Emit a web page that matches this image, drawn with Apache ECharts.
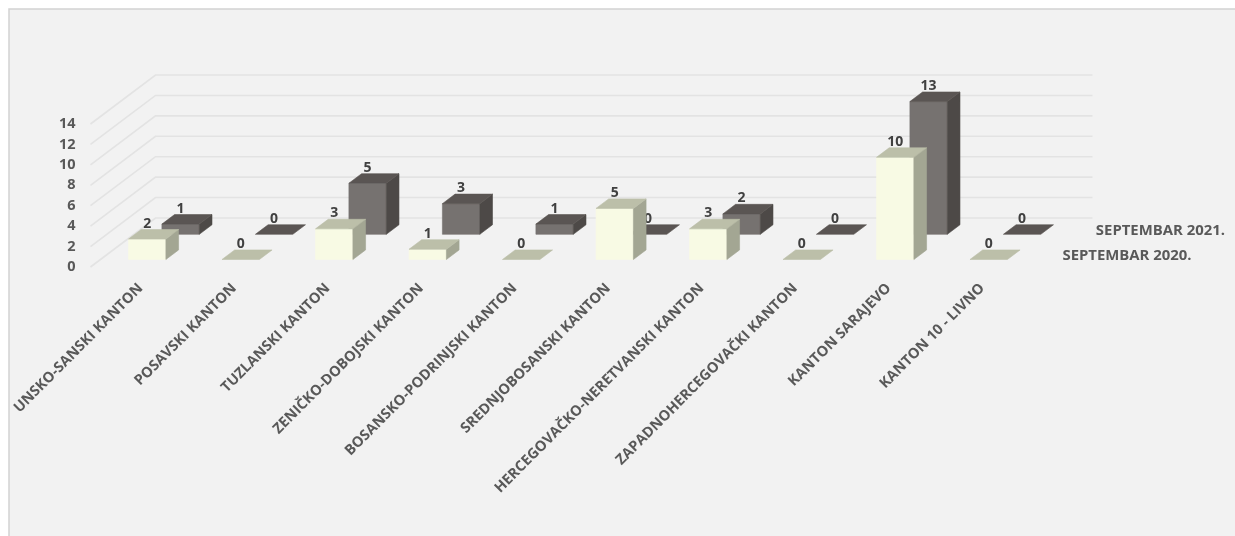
<!DOCTYPE html>
<html>
<head>
<meta charset="utf-8">
<style>html,body{margin:0;padding:0;background:#fff}#c{width:1235px;height:536px}</style>
<script src="https://cdn.jsdelivr.net/npm/echarts@6/dist/echarts.min.js"></script>
</head>
<body>
<div id="c"></div>
<script>
const categories = ['UNSKO-SANSKI KANTON','POSAVSKI KANTON','TUZLANSKI KANTON','ZENIČKO-DOBOJSKI KANTON','BOSANSKO-PODRINJSKI KANTON','SREDNJOBOSANSKI KANTON','HERCEGOVAČKO-NERETVANSKI KANTON','ZAPADNOHERCEGOVAČKI KANTON','KANTON SARAJEVO','KANTON 10 - LIVNO'];
const seriesNames = ['SEPTEMBAR 2020.','SEPTEMBAR 2021.'];
const sept2020 = [2,0,3,1,0,5,3,0,10,0];
const sept2021 = [1,0,5,3,1,0,2,0,13,0];
const yTicks = [0,2,4,6,8,10,12,14];

const FONT = '"Open Sans", sans-serif';
const WALL_DX = 65, WALL_DY = 49, BAR_DEPTH = 0.195;
const DEPTH = [0.153, 0.667];
const PAL = [
  {front:'#f8fae4', top:'#bcbfa9', side:'#a3a693'},
  {front:'#767270', top:'#5a5553', side:'#4d4947'}
];

function poly(points, fill){
  return {type:'polygon', shape:{points}, style:{fill, stroke:fill, lineWidth:0.6}};
}
function barRenderer(k){
  return function(params, api){
    const i = api.value(0), v = api.value(1);
    const band = api.size([1,0])[0];
    const w = band * 0.4;
    const base = api.coord([i,0]), top = api.coord([i,v]);
    const ox = WALL_DX*DEPTH[k], oy = -WALL_DY*DEPTH[k];
    const dx = WALL_DX*BAR_DEPTH, dy = -WALL_DY*BAR_DEPTH;
    const L = base[0]+ox-w/2, R = base[0]+ox+w/2, B = base[1]+oy, T = top[1]+oy;
    const c = PAL[k], children = [];
    if (v > 0) {
      children.push(poly([[L,T],[R,T],[R,B],[L,B]], c.front));
      children.push(poly([[R,T],[R+dx,T+dy],[R+dx,B+dy],[R,B]], c.side));
    }
    children.push(poly([[L,T],[R,T],[R+dx,T+dy],[L+dx,T+dy]], c.top));
    children.push({type:'text', style:{text:String(v), x:base[0]+ox, y:T+dy+1, align:'center', verticalAlign:'bottom',
      font:'bold 14px '+FONT, fill:'#404040'}});
    return {type:'group', children};
  };
}
function barData(vals){ return vals.map((v,i)=>[i,v]); }

const option = {
  animation:false,
  backgroundColor:'#ffffff',
  graphic:[{type:'rect', z:-10, shape:{x:9,y:9,width:1240,height:540}, style:{fill:'#f2f2f2', stroke:'#d2d2d2', lineWidth:1.5}}],
  grid:{left:90.5, top:124, width:935, height:143, containLabel:false},
  xAxis:{type:'category', data:categories, axisLine:{show:false}, axisTick:{show:false}, splitLine:{show:false},
    axisLabel:{interval:0, rotate:45, margin:15.5, verticalAlign:'top', lineHeight:10, color:'#595959', fontFamily:FONT, fontWeight:'bold', fontSize:14.5}},
  yAxis:{type:'value', min:0, max:14, interval:2, axisLine:{show:false}, axisTick:{show:false}, splitLine:{show:false},
    axisLabel:{margin:15, color:'#595959', fontFamily:FONT, fontWeight:'bold', fontSize:14.5}},
  series:[
    {type:'custom', name:'walls', coordinateSystem:'cartesian2d', silent:true, clip:false, z:1,
      data:yTicks.map(t=>[0,t]), encode:{x:0,y:1},
      renderItem(params, api){
        const band = api.size([1,0])[0];
        const p = api.coord([0, api.value(1)]);
        const x0 = p[0]-band/2, y0 = p[1];
        const xr = api.coord([categories.length-1,0])[0]+band/2+WALL_DX+2;
        return {type:'polyline', shape:{points:[[x0,y0],[x0+WALL_DX,y0-WALL_DY],[xr,y0-WALL_DY]]},
          style:{fill:null, stroke:'#e3e3e3', lineWidth:1.6}};
      }},
    {type:'custom', name:seriesNames[1], coordinateSystem:'cartesian2d', clip:false, z:2,
      data:barData(sept2021), encode:{x:0,y:1}, renderItem:barRenderer(1)},
    {type:'custom', name:seriesNames[0], coordinateSystem:'cartesian2d', clip:false, z:3,
      data:barData(sept2020), encode:{x:0,y:1}, renderItem:barRenderer(0)},
    {type:'custom', name:'depth axis', coordinateSystem:'cartesian2d', silent:true, clip:false, z:3,
      data:seriesNames.map((n,k)=>[categories.length-1,0,k]), encode:{x:0,y:1},
      renderItem(params, api){
        const k = api.value(2);
        const band = api.size([1,0])[0];
        const p = api.coord([api.value(0),0]);
        return {type:'text', style:{text:seriesNames[k],
          x:p[0]+band/2+WALL_DX*DEPTH[k]+27, y:p[1]-WALL_DY*DEPTH[k]-4, align:'left', verticalAlign:'middle',
          font:'bold 14.9px '+FONT, fill:'#595959'}};
      }}
  ]
};
echarts.init(document.getElementById('c'), null, {renderer:'canvas'}).setOption(option);
</script>
</body>
</html>
